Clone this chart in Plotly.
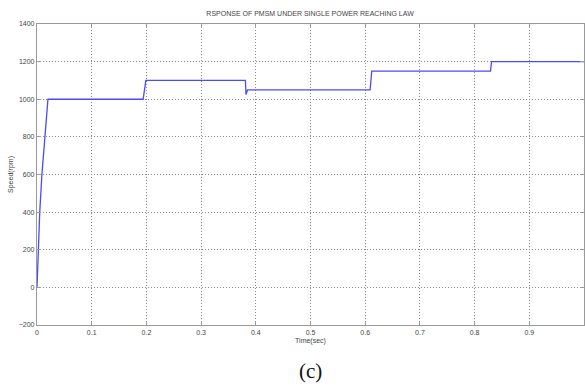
import plotly.graph_objects as go

time_sec = [0, 0.002, 0.005, 0.009, 0.014, 0.02, 0.194, 0.199, 0.381, 0.382, 0.385, 0.609, 0.612, 0.829, 0.831, 1.0]
speed_rpm = [0, 200, 400, 600, 800, 1000, 1000, 1100, 1100, 1025, 1050, 1050, 1150, 1150, 1200, 1200]

x_tickvals = [0, 0.1, 0.2, 0.3, 0.4, 0.5, 0.6, 0.7, 0.8, 0.9, 1.0]
x_ticktext = ["0", "0.1", "0.2", "0.3", "0.4", "0.5", "0.6", "0.7", "0.8", "0.9", ""]
y_tickvals = [-200, 0, 200, 400, 600, 800, 1000, 1200, 1400]

fig = go.Figure()
fig.add_trace(go.Scatter(x=time_sec, y=speed_rpm, mode="lines",
                         line=dict(color="#4a4aff", width=1.3), showlegend=False))

axis_common = dict(showline=True, mirror="ticks", linecolor="#9a9a9a", linewidth=1.2,
                   ticks="inside", ticklen=4, tickcolor="#9a9a9a",
                   showgrid=True, gridcolor="#8a8a8a", griddash="1px,2px", gridwidth=1,
                   zeroline=False, tickfont=dict(family="Arial, Liberation Sans", size=7, color="#444"))

fig.update_xaxes(range=[0, 1.0], tickvals=x_tickvals, ticktext=x_ticktext,
                 title=dict(text="Time(sec)", font=dict(family="Arial, Liberation Sans", size=7, color="#444"), standoff=3),
                 **axis_common)
fig.update_yaxes(range=[-200, 1400], tickvals=y_tickvals,
                 title=dict(text="Speed(rpm)", font=dict(family="Arial, Liberation Sans", size=7, color="#444"), standoff=4),
                 **axis_common)

fig.update_layout(
    width=585, height=388,
    margin=dict(l=37, r=1, t=24, b=63),
    paper_bgcolor="white", plot_bgcolor="white",
    title=dict(text="RSPONSE OF PMSM UNDER SINGLE POWER REACHING LAW",
               font=dict(family="Arial, Liberation Sans", size=7, color="#444"),
               x=0.53, xanchor="center", y=0.965, yanchor="middle"),
    annotations=[dict(text="(c)", xref="paper", yref="paper", x=0.5, y=-0.105,
                      xanchor="center", yanchor="top", showarrow=False,
                      font=dict(family="Times New Roman, Liberation Serif", size=21, color="#111"))],
)

fig.write_html("out.html")
